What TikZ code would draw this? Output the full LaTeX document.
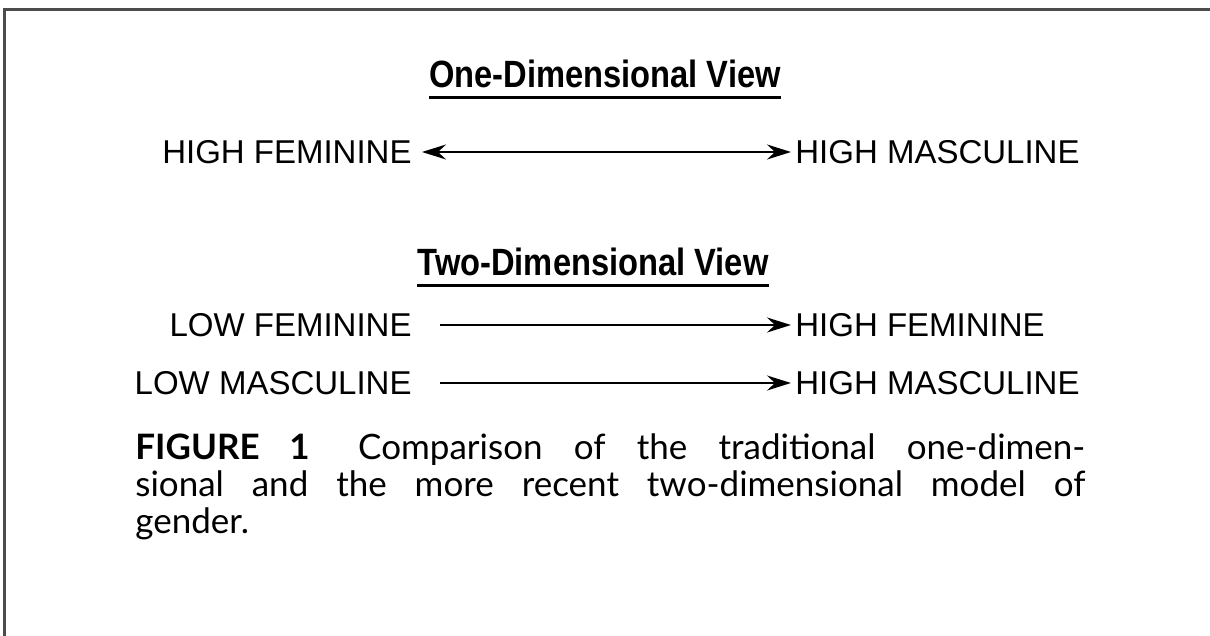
\documentclass[tikz,border=0pt]{standalone}
\usepackage{fontspec}
\setmainfont{Liberation Sans}
\newfontfamily\capfont{Lato}
\usetikzlibrary{arrows.meta}
\begin{document}
\begin{tikzpicture}[x=0.5pt, y=-0.5pt]
% one unit is one pixel of the 1210x636 figure, y runs downwards
\providecommand{\genFrameColor}{black!70}
\providecommand{\genLineWidth}{1pt}
\tikzset{
  lbl/.style={inner sep=0pt, font=\fontsize{16.5}{19}\selectfont},
  viewtitle/.style={inner sep=0pt, xscale=0.86, font=\fontsize{19}{22}\selectfont\bfseries},
  tip/.style={Stealth[length=12pt, width=7.5pt, inset=4pt]},
  conn/.style={line width=\genLineWidth, -{Stealth[length=12pt, width=7.5pt, inset=4pt]}},
  twoway/.style={line width=\genLineWidth,
    {Stealth[length=12pt, width=7.5pt, inset=4pt]}-{Stealth[length=12pt, width=7.5pt, inset=4pt]}},
}
\useasboundingbox (0,0) rectangle (1210,636);
\clip (0,0) rectangle (1210,636);
% Open frame (left and top edges only)
\draw[draw=\genFrameColor, line width=1.5pt] (4,700) -- (4,10) -- (1300,10);
% One-dimensional view
\node[viewtitle, anchor=base] (onetitle) at (605,88) {One-Dimensional View};
\draw[line width=1.5pt] (onetitle.south west |- 0,98) -- (onetitle.south east |- 0,98);
\node[lbl, anchor=east] (hfem) at (412,152) {HIGH FEMININE};
\node[lbl, anchor=west] (hmas) at (795,152) {HIGH MASCULINE};
\draw[twoway, shorten <=5pt, shorten >=2pt] (hfem) -- (hmas);
% Two-dimensional view
\node[viewtitle, anchor=base] (twotitle) at (593,276) {Two-Dimensional View};
\draw[line width=1.5pt] (twotitle.south west |- 0,286) -- (twotitle.south east |- 0,286);
\node[lbl, anchor=east] (lfem) at (412,325) {LOW FEMININE};
\node[lbl, anchor=west] (hfemtwo) at (795,325) {HIGH FEMININE};
\node[lbl, anchor=east] (lmas) at (412,383) {LOW MASCULINE};
\node[lbl, anchor=west] (hmastwo) at (795,383) {HIGH MASCULINE};
\draw[conn, shorten <=14pt, shorten >=2pt] (lfem) -- (hfemtwo);
\draw[conn, shorten <=14pt, shorten >=2pt] (lmas) -- (hmastwo);
% Caption
\node[anchor=north west, inner sep=0pt, text width=475pt, align=justify,
      font=\capfont\fontsize{17.5}{18.5}\selectfont] (caption) at (135,433)
  {\textbf{FIGURE 1}\hspace{0.5em} Comparison of the traditional one-dimen-\linebreak
   sional and the more recent two-dimensional model of\linebreak gender.};
\end{tikzpicture}
\end{document}
